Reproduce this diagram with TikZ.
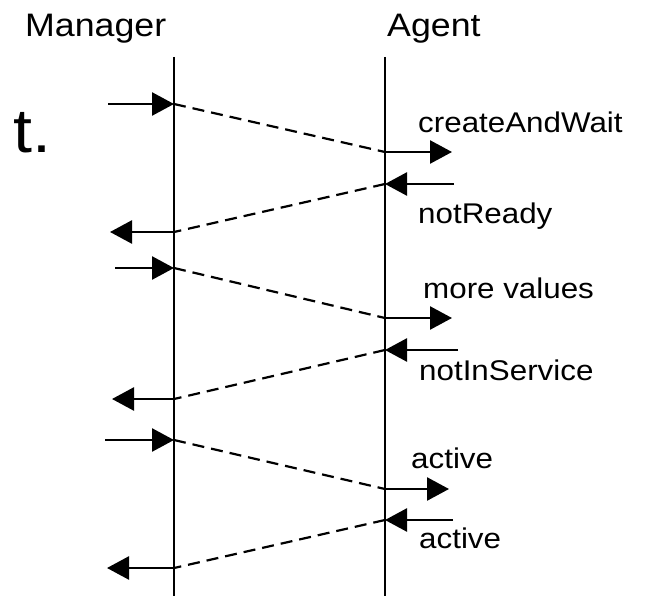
\documentclass[tikz,border=0pt]{standalone}
\usepackage{fontspec}
\usepackage{graphicx}
\setmainfont{Liberation Sans}
\usetikzlibrary{arrows.meta}
\newcommand\stx[1]{\scalebox{1.1}[1]{#1}}
\begin{document}
\begin{tikzpicture}[x=1pt,y=-1pt,
  lifeline/.style={line width=2.2pt},
  msg/.style={line width=2.6pt,-{Triangle[length=22pt,width=23pt]}},
  flow/.style={line width=2.2pt,dash pattern=on 12pt off 7pt},
  head/.style={font=\fontsize{32.5}{36}\selectfont,inner sep=0pt,anchor=base west},
  lbl/.style={font=\fontsize{28.5}{32}\selectfont,inner sep=0pt,anchor=base west}]
\useasboundingbox (0,0) rectangle (650,596);
% headers
\node[head] (mgr) at (25,37) {\stx{Manager}};
\node[head] (agt) at (387,37) {\stx{Agent}};
\node[font=\fontsize{62}{68}\selectfont,inner sep=0pt,anchor=base east] (tdot) at (52,153) {\stx{t.}};
% lifelines
\coordinate (mtop) at (174,57);
\coordinate (mbot) at (174,596);
\coordinate (atop) at (385,57);
\coordinate (abot) at (385,596);
\draw[lifeline] (mtop) -- (mbot);
\draw[lifeline] (atop) -- (abot);
% exchange 1
\coordinate (m1s) at (108,104); \coordinate (m1) at (174,104);
\coordinate (a1) at (385,152); \coordinate (a1e) at (452,152);
\draw[msg] (m1s) -- (m1);
\draw[flow] (m1) -- (a1);
\draw[msg] (a1) -- (a1e);
\coordinate (a2s) at (454,184); \coordinate (a2) at (385,184);
\coordinate (m2) at (174,232); \coordinate (m2e) at (110,232);
\draw[msg] (a2s) -- (a2);
\draw[flow] (a2) -- (m2);
\draw[msg] (m2) -- (m2e);
% exchange 2
\coordinate (m3s) at (115,268); \coordinate (m3) at (174,268);
\coordinate (a3) at (385,318); \coordinate (a3e) at (452,318);
\draw[msg] (m3s) -- (m3);
\draw[flow] (m3) -- (a3);
\draw[msg] (a3) -- (a3e);
\coordinate (a4s) at (458,350); \coordinate (a4) at (385,350);
\coordinate (m4) at (174,399); \coordinate (m4e) at (112,399);
\draw[msg] (a4s) -- (a4);
\draw[flow] (a4) -- (m4);
\draw[msg] (m4) -- (m4e);
% exchange 3
\coordinate (m5s) at (105,440); \coordinate (m5) at (174,440);
\coordinate (a5) at (385,489); \coordinate (a5e) at (449,489);
\draw[msg] (m5s) -- (m5);
\draw[flow] (m5) -- (a5);
\draw[msg] (a5) -- (a5e);
\coordinate (a6s) at (453,520); \coordinate (a6) at (385,520);
\coordinate (m6) at (174,568); \coordinate (m6e) at (107,568);
\draw[msg] (a6s) -- (a6);
\draw[flow] (a6) -- (m6);
\draw[msg] (m6) -- (m6e);
% labels
\node[lbl] (l1) at (418,133) {\stx{createAndWait}};
\node[lbl] (l2) at (418,223) {\stx{notReady}};
\node[lbl] (l3) at (423,298) {\stx{more values}};
\node[lbl] (l4) at (419,380) {\stx{notInService}};
\node[lbl] (l5) at (411,468) {\stx{active}};
\node[lbl] (l6) at (419,548) {\stx{active}};
\end{tikzpicture}
\end{document}
